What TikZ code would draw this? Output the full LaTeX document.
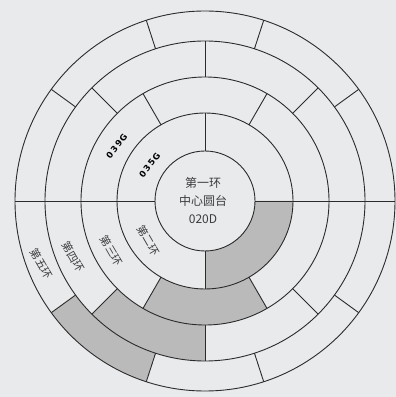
\documentclass[tikz,border=0pt]{standalone}
\usepackage{fontspec}
\setmainfont{Noto Sans CJK SC}
\newfontfamily\codefont[LetterSpace=15]{DejaVu Sans}
\definecolor{RingBg}{HTML}{E9EAEC}
\definecolor{RingLine}{HTML}{2B2B2B}
\definecolor{RingFill}{HTML}{BABABA}
\definecolor{RingText}{HTML}{3C3C3C}

\begin{document}
\begin{tikzpicture}[x=1pt,y=1pt]
  \tikzstyle{ringline}=[draw=RingLine,line width=0.9pt]
  \tikzstyle{sector}=[fill=RingFill]
  \tikzstyle{ringlabel}=[text=RingText,rotate=-60,inner sep=0pt,
    font=\fontsize{11}{12}\selectfont]
  \tikzstyle{codelabel}=[text=black,rotate=52,inner sep=0pt,
    font=\codefont\bfseries\fontsize{8.5}{9}\selectfont]
  \fill[RingBg] (0,0) rectangle (396,397);
  \useasboundingbox (0,0) rectangle (396,397);
  \begin{scope}[shift={(205,196)}]
    % shaded sectors
    \fill[sector] (270:50) arc (270:360:50) -- (0:88) arc (0:-90:88) -- cycle;
    \fill[sector] (240:88) arc (240:300:88) -- (300:124) arc (300:240:124) -- cycle;
    \fill[sector] (225:124) arc (225:270:124) -- (270:160) arc (270:225:160) -- cycle;
    \fill[sector] (216:160) arc (216:252:160) -- (252:190) arc (252:216:190) -- cycle;
    % rings
    \foreach \r in {50,88,124,160,190}
      \draw[ringline] (0,0) circle (\r);
    % dividers
    \foreach \a in {0,90,180,270}
      \draw[ringline] (\a:50) -- (\a:88);
    \foreach \a in {0,60,...,300}
      \draw[ringline] (\a:88) -- (\a:124);
    \foreach \a in {0,45,...,315}
      \draw[ringline] (\a:124) -- (\a:160);
    \foreach \a in {0,36,...,324}
      \draw[ringline] (\a:160) -- (\a:190);
    % labels
    \node[text=RingText,align=center,font=\fontsize{12}{18}\selectfont]
      (core) at (-2,0) {第一环\\中心圆台\\020D};
    \node[ringlabel] (ring2) at (215:69) {第二环};
    \node[ringlabel] (ring3) at (208:106) {第三环};
    \node[ringlabel] (ring4) at (203:143) {第四环};
    \node[ringlabel] (ring5) at (201:175) {第五环};
    \node[codelabel] (code2) at (147:66) {035G};
    \node[codelabel] (code3) at (148:104) {039G};
  \end{scope}
\end{tikzpicture}
\end{document}
